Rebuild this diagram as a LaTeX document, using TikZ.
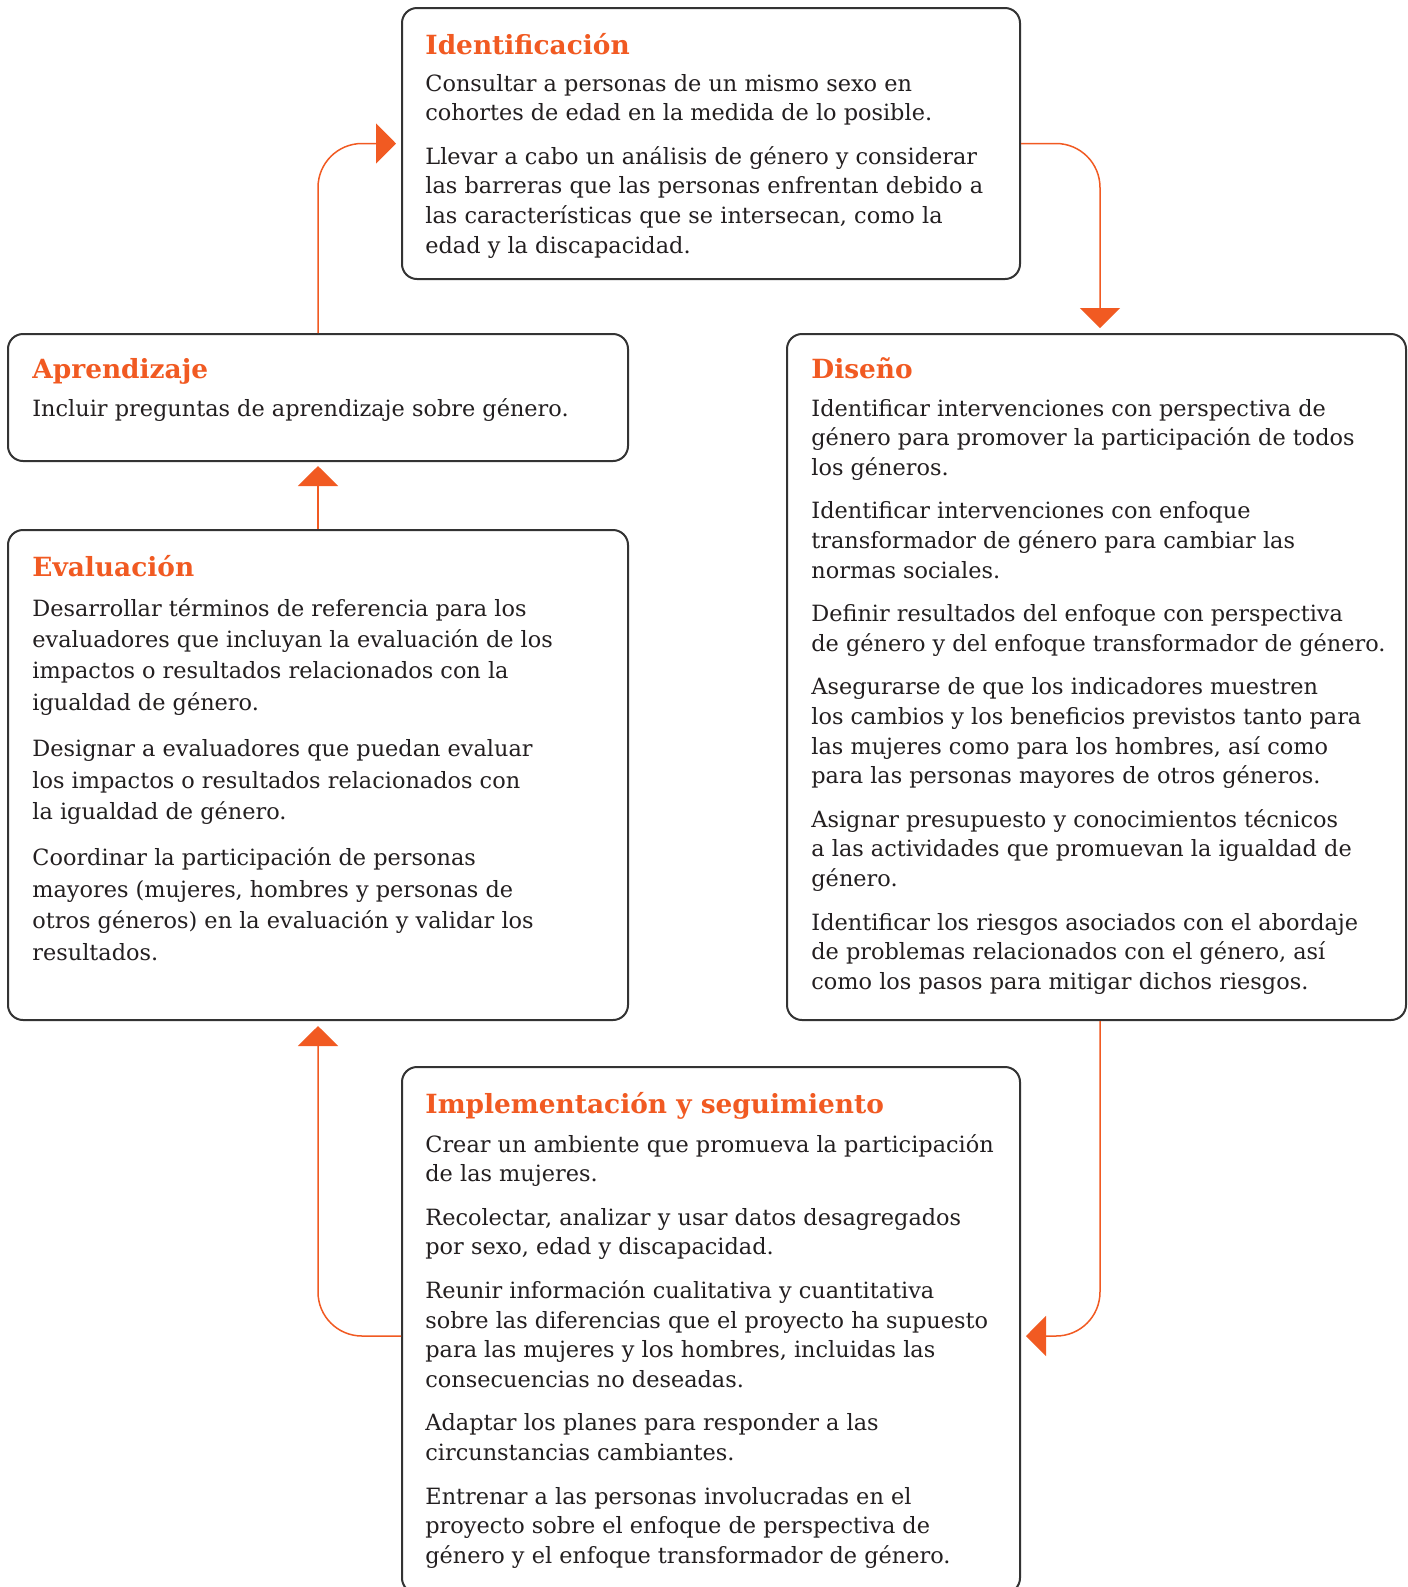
\documentclass[tikz,border=0pt]{standalone}
\usepackage{fontspec}
\setmainfont{DejaVu Serif}
\usetikzlibrary{arrows.meta,fit}
\definecolor{org}{HTML}{F15A22}
\definecolor{ink}{HTML}{231F20}
\definecolor{edgec}{HTML}{333333}
\newcommand{\bodytext}[3]{\parbox[t]{420pt}{\fontsize{11.2}{#1}\selectfont\raggedright\setlength{\parskip}{#2}#3}}
\begin{document}
\begin{tikzpicture}[x=0.5pt,y=-0.5pt,
  box/.style={draw=edgec,line width=1pt,rounded corners=7.5pt,inner sep=0pt},
  head/.style={anchor=base west,inner sep=0pt,text=org,font=\fontsize{13.2}{15}\selectfont\bfseries},
  txt/.style={anchor=base west,inner sep=0pt,text=ink},
  conn/.style={draw=org,line width=0.75pt,rounded corners=22pt,-{Triangle[width=20pt,length=10pt]},shorten >=2.5pt}]
\useasboundingbox (0,0) rectangle (1408,1587);
\fill[white] (0,0) rectangle (1408,1587);
% boxes
\node[box,fit={(402,8) (1020,279)}] (ident) {};
\node[box,fit={(8,334) (628,461)}] (apren) {};
\node[box,fit={(787,334) (1406,1020)}] (dis) {};
\node[box,fit={(8,530) (628,1020)}] (eval) {};
\node[box,fit={(402,1067) (1020,1593)}] (impl) {};
% texts
\node[head] (identh) at (425,54) {Identificación};
\node[txt] (identb) at (425,91) {\bodytext{14.8pt}{7pt}{Consultar a personas de un mismo sexo en\\cohortes de edad en la medida de lo posible.\par
Llevar a cabo un análisis de género y considerar\\las barreras que las personas enfrentan debido a\\las características que se intersecan, como la\\edad y la discapacidad.}};
\node[head] (aprenh) at (32,378) {Aprendizaje};
\node[txt] (aprenb) at (32,416) {\bodytext{14.8pt}{7pt}{Incluir preguntas de aprendizaje sobre género.}};
\node[head] (dish) at (811,378) {Diseño};
\node[txt] (disb) at (811,416) {\bodytext{14.8pt}{7pt}{Identificar intervenciones con perspectiva de\\género para promover la participación de todos\\los géneros.\par
Identificar intervenciones con enfoque\\transformador de género para cambiar las\\normas sociales.\par
Definir resultados del enfoque con perspectiva\\de género y del enfoque transformador de género.\par
Asegurarse de que los indicadores muestren\\los cambios y los beneficios previstos tanto para\\las mujeres como para los hombres, así como\\para las personas mayores de otros géneros.\par
Asignar presupuesto y conocimientos técnicos\\a las actividades que promuevan la igualdad de\\género.\par
Identificar los riesgos asociados con el abordaje\\de problemas relacionados con el género, así\\como los pasos para mitigar dichos riesgos.}};
\node[head] (evalh) at (32,576) {Evaluación};
\node[txt] (evalb) at (32,616) {\bodytext{15.7pt}{7.5pt}{Desarrollar términos de referencia para los\\evaluadores que incluyan la evaluación de los\\impactos o resultados relacionados con la\\igualdad de género.\par
Designar a evaluadores que puedan evaluar\\los impactos o resultados relacionados con\\la igualdad de género.\par
Coordinar la participación de personas\\mayores (mujeres, hombres y personas de\\otros géneros) en la evaluación y validar los\\resultados.}};
\node[head] (implh) at (425,1113) {Implementación y seguimiento};
\node[txt] (implb) at (425,1152) {\bodytext{14.8pt}{7pt}{Crear un ambiente que promueva la participación\\de las mujeres.\par
Recolectar, analizar y usar datos desagregados\\por sexo, edad y discapacidad.\par
Reunir información cualitativa y cuantitativa\\sobre las diferencias que el proyecto ha supuesto\\para las mujeres y los hombres, incluidas las\\consecuencias no deseadas.\par
Adaptar los planes para responder a las\\circunstancias cambiantes.\par
Entrenar a las personas involucradas en el\\proyecto sobre el enfoque de perspectiva de\\género y el enfoque transformador de género.}};
% connectors
\draw[conn] (ident.east) -| ([xshift=1.75pt]dis.north);
\draw[conn] ([xshift=1.75pt]dis.south) |- ([yshift=-3pt]impl.east);
\draw[conn] ([yshift=-3pt]impl.west) -| (eval.south);
\draw[conn,shorten >=2pt] (eval.north) -- (apren.south);
\draw[conn] (apren.north) |- (ident.west);
\end{tikzpicture}
\end{document}
